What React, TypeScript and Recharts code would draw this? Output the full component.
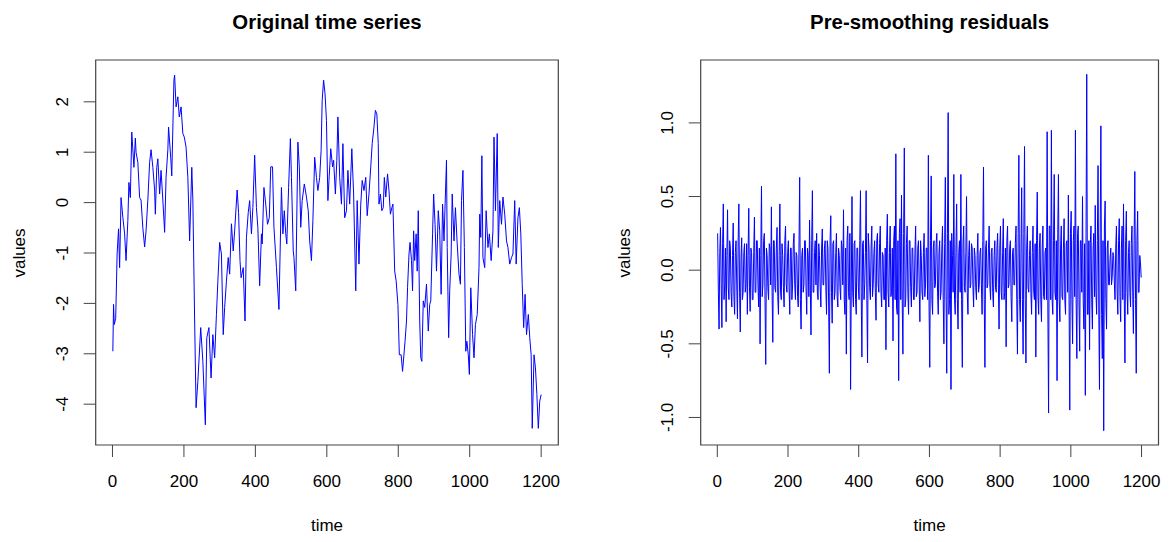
import React from 'react';
import { LineChart, Line, XAxis, YAxis, ReferenceArea } from 'recharts';

// ---------- Original time series ----------
const ORIG_TIME = [
  1, 3, 5, 9, 13, 17, 20, 24, 29, 34, 38, 43, 46, 50, 54, 60, 64, 66, 71, 76,
  80, 85, 90, 94, 99, 104, 108, 113, 118, 120, 124, 127, 132, 136, 141, 146, 150, 155, 157, 163,
  166, 172, 174, 178, 183, 187, 192, 197, 201, 206, 211, 216, 222, 225, 230, 234, 239, 247, 253, 260,
  264, 270, 276, 281, 286, 291, 295, 300, 305, 310, 314, 319, 324, 328, 333, 338, 342, 349, 353, 357,
  360, 366, 371, 375, 380, 384, 389, 393, 398, 403, 407, 412, 417, 419, 424, 429, 434, 439, 443, 448,
  452, 459, 466, 473, 477, 481, 485, 488, 493, 498, 501, 506, 508, 513, 519, 523, 527, 531, 537, 543,
  548, 552, 557, 561, 566, 571, 575, 580, 584, 587, 591, 595, 599, 603, 606, 611, 616, 619, 624, 628,
  631, 636, 641, 645, 650, 655, 659, 664, 670, 675, 681, 685, 690, 695, 699, 704, 709, 713, 718, 723,
  727, 732, 736, 740, 744, 746, 750, 754, 758, 761, 765, 770, 774, 778, 782, 785, 790, 794, 799, 803,
  808, 812, 819, 823, 826, 830, 833, 837, 840, 843, 846, 850, 853, 856, 860, 863, 866, 870, 874, 879,
  884, 888, 891, 896, 899, 903, 907, 912, 916, 920, 924, 928, 932, 935, 937, 941, 944, 948, 951, 956,
  960, 965, 970, 974, 977, 981, 985, 989, 992, 996, 999, 1003, 1008, 1012, 1016, 1021, 1026, 1028, 1031, 1034,
  1037, 1042, 1046, 1051, 1055, 1060, 1065, 1068, 1072, 1077, 1080, 1084, 1089, 1093, 1098, 1103, 1107, 1112, 1117, 1121,
  1126, 1130, 1135, 1139, 1143, 1147, 1151, 1155, 1159, 1164, 1168, 1172, 1175, 1180, 1184, 1188, 1192, 1196, 1200,
];

const ORIG_VALUE = [
  -2.95, -2.02, -2.42, -2.3, -1.02, -0.52, -1.29, 0.1, -0.29, -0.62, -1.15, -0.36, 0.4, 0.1, 1.4, 0.7, 1.28, 1.0, 0.8, 0.1,
  0.05, -0.5, -0.88, -0.56, 0.05, 0.8, 1.05, 0.7, 0.25, -0.23, 0.7, 0.87, 0.17, 0.64, 0.05, -0.59, 0.5, 1.05, 1.5, 0.9,
  0.53, 2.43, 2.53, 1.9, 2.1, 1.7, 1.9, 1.37, 1.3, 1.1, 0.5, -0.76, 0.7, 0.05, -2.35, -4.07, -3.55, -2.48, -3.15, -4.41,
  -2.68, -2.48, -3.48, -2.62, -3.08, -2.22, -1.56, -0.79, -1.02, -2.62, -2.08, -1.56, -1.09, -1.42, -0.42, -0.96, -0.56, 0.25, -0.2, -1.15,
  -1.49, -1.29, -2.35, -0.69, -0.2, 0.04, -0.62, -0.1, 0.94, -0.1, -0.5, -1.65, -0.62, -0.82, 0.3, -0.03, -0.43, -0.3, 0.71, 0.71,
  -0.49, -1.29, -2.12, 0.3, -0.62, -0.16, -0.62, -0.82, 0.3, 1.27, 0.5, -0.96, -1.09, -1.75, 1.2, 0.71, -0.49, 0.04, 0.37, 0.11,
  -0.16, -0.76, -1.15, -0.36, 0.9, 0.5, 0.24, 0.5, 1.03, 2.03, 2.43, 2.16, 1.63, 0.04, 0.44, 1.07, 0.71, 0.84, 0.17, 0.84,
  1.7, 0.5, -0.03, 1.17, -0.3, -0.16, 0.64, -0.03, 1.07, 0.17, -1.75, 0.04, -1.22, -0.03, 0.44, 0.24, 0.5, -0.26, 0.17, 0.71,
  1.17, 1.5, 1.83, 1.76, 1.17, -0.03, 0.17, -0.16, -0.1, 0.5, 0.11, 0.57, 0.24, -0.23, -0.1, -0.03, -1.36, -1.55, -2.02, -3.02,
  -3.02, -3.35, -2.75, -2.35, -1.69, -1.02, -0.79, -1.15, -1.75, -0.56, -1.15, -0.62, -1.36, -0.16, -2.35, -3.08, -3.15, -1.95, -2.08, -1.62,
  -2.55, -2.02, -1.95, -0.62, 0.17, -0.43, -1.36, -0.16, -0.56, -1.82, -0.03, -0.76, 0.17, 0.84, -0.89, -2.68, -1.75, -1.02, 0.17, -0.76,
  -0.1, -0.82, -1.42, -1.62, 0.04, 0.64, -0.89, -2.95, -2.75, -3.02, -3.41, -1.69, -2.62, -3.08, -2.42, -2.22, -1.29, -0.23, -0.69, 0.93,
  -1.09, -1.29, -0.16, -0.89, -0.62, -1.15, -0.56, 1.3, -0.16, 1.37, -0.89, 0.04, -0.43, 0.11, -0.23, -0.76, -0.89, -1.22, -1.09, -1.02,
  0.04, -1.22, -0.3, -0.1, -0.62, -1.62, -2.48, -1.82, -2.62, -2.22, -2.68, -3.02, -4.48, -3.02, -3.28, -3.81, -4.48, -3.94, -3.81,
];

// ---------- Pre-smoothing residuals ----------
// Readings at t = 1, 5, 9, ... (every 4 steps, incl. the visible spikes)
const RESID_A_START = 1;
const RESID_STEP = 4;
const RESID_A = [
  0.25, -0.4, 0.29, -0.39, 0.45, -0.1, -0.35, 0.41, -0.2, 0.15, -0.25, 0.32, -0.3, 0.2, -0.33, 0.45, -0.42, 0.22, -0.15, 0.18, -0.1, -0.3, 0.42, -0.28, 0.12,
  -0.2, 0.36, -0.15, 0.2, -0.25, -0.5, 0.57, -0.1, 0.25, -0.64, 0.1, -0.2, 0.15, 0.43, -0.49, 0.2, -0.15, 0.29, -0.3, 0.45, -0.2, 0.1, -0.25, 0.3, -0.15,
  0.2, -0.3, 0.15, -0.1, 0.25, -0.2, 0.1, -0.25, 0.63, -0.4, 0.15, -0.1, 0.2, -0.3, 0.1, 0.34, -0.44, 0.54, -0.15, 0.2, 0.25, -0.2, 0.1, -0.25, 0.28,
  -0.1, 0.2, -0.3, 0.15, -0.7, 0.37, -0.36, 0.2, -0.15, 0.25, -0.25, 0.1, -0.2, 0.15, 0.41, -0.3, -0.57, 0.3, -0.2, -0.81, 0.5, -0.25, 0.2, -0.3, 0.15,
  -0.2, 0.54, -0.59, 0.2, -0.1, 0.54, -0.63, 0.15, -0.2, 0.3, -0.1, 0.2, -0.34, 0.25, -0.15, 0.3, -0.25, 0.1, -0.2, -0.54, 0.38, -0.25, 0.3, -0.15, -0.48,
  0.3, 0.79, -0.3, -0.75, 0.35, 0.51, -0.57, 0.83, -0.2, 0.3, -0.3, 0.2, -0.25, 0.15, -0.2, 0.3, -0.15, 0.2, -0.35, 0.1, -0.2, 0.25, -0.1, 0.15, 0.78,
  -0.66, 0.64, -0.3, 0.2, -0.1, 0.25, -0.3, 0.2, -0.15, 0.3, -0.5, 0.63, -0.7, 1.07, -0.2, -0.81, 0.1, 0.65, -0.3, 0.45, -0.4, 0.2, 0.65, -0.66, 0.3,
  -0.15, 0.5, -0.3, 0.2, -0.1, 0.15, -0.25, 0.1, -0.2, 0.25, -0.1, 0.15, -0.3, 0.7, -0.66, 0.2, -0.1, 0.3, -0.2, 0.15, -0.25, 0.2, -0.15, 0.25, -0.4,
  0.3, -0.2, 0.35, -0.15, -0.52, 0.3, -0.1, 0.2, -0.35, 0.15, -0.1, 0.3, -0.57, 0.78, -0.35, 0.56, -0.57, 0.84, -0.63, 0.3, -0.15, 0.2, -0.3, 0.3, -0.2,
  -0.59, 0.53, -0.3, 0.25, -0.35, 0.3, -0.2, 0.15, 0.94, -0.97, 0.3, 0.95, -0.3, 0.65, -0.2, -0.75, 0.65, -0.35, 0.3, -0.2, 0.35, -0.3, 0.2, 0.51, -0.95,
  0.4, -0.5, 0.3, 0.95, -0.6, 0.3, -0.55, 0.2, 0.5, -0.4, -0.85, 1.33, -0.3, -0.54, 0.3, -0.4, 0.25, 0.44, -0.3, 0.71, -0.81, 0.98, -0.6, -1.09, 0.47,
  -0.4, 0.2, -0.1, 0.15, -0.05, 0.1, -0.2, 0.3, -0.3, 0.35, -0.35, 0.3, 0.45, -0.63, 0.4, -0.3, 0.2, -0.25, 0.3, -0.43, 0.67, -0.7, 0.4, -0.15, 0.05,
];
// Readings at t = 3, 7, 11, ... (the dense core of the noise band)
const RESID_B_START = 3;
const RESID_B = [
  -0.15, 0.12, -0.1, 0.18, -0.2, 0.15, 0.1, -0.12, 0.2, -0.15, 0.1, -0.18, 0.12, -0.1, 0.2, -0.15, 0.08, -0.2, 0.12, -0.15, 0.18, 0.1, -0.12, 0.15, -0.2,
  0.12, -0.15, 0.2, -0.1, 0.15, 0.1, -0.18, 0.2, -0.2, 0.15, -0.12, 0.18, -0.1, -0.15, 0.2, -0.12, 0.15, -0.18, 0.1, -0.15, 0.18, -0.12, 0.2, -0.1, 0.12,
  -0.12, 0.15, -0.2, 0.18, -0.1, 0.12, -0.18, 0.15, -0.2, 0.1, -0.15, 0.2, -0.12, 0.15, -0.18, -0.1, 0.2, -0.15, 0.12, -0.1, -0.15, 0.18, -0.12, 0.15, -0.1,
  0.15, -0.12, 0.2, -0.25, 0.2, -0.15, 0.18, -0.2, 0.12, -0.18, 0.15, -0.12, 0.2, -0.1, -0.2, 0.15, 0.2, -0.15, 0.25, -0.1, -0.15, 0.18, -0.2, 0.15, -0.12,
  0.2, -0.15, 0.18, -0.2, 0.12, -0.2, 0.25, -0.12, 0.15, -0.18, 0.12, -0.15, 0.2, -0.1, 0.18, -0.15, 0.12, -0.2, 0.15, 0.2, -0.15, 0.12, -0.18, 0.15, 0.2,
  -0.2, -0.25, 0.2, 0.25, -0.2, -0.2, 0.25, -0.25, 0.18, -0.15, 0.2, -0.12, 0.15, -0.2, 0.12, -0.18, 0.15, -0.1, 0.2, -0.15, 0.12, -0.18, 0.15, -0.2, -0.25,
  0.2, -0.2, 0.15, -0.12, 0.18, -0.15, 0.12, -0.2, 0.15, -0.2, 0.18, -0.15, 0.25, -0.3, 0.2, 0.25, -0.15, -0.2, 0.15, -0.2, 0.12, -0.15, -0.2, 0.18, -0.12,
  0.12, -0.15, 0.1, -0.12, 0.18, -0.1, 0.15, -0.12, 0.1, -0.15, 0.12, -0.1, 0.2, -0.2, 0.15, -0.12, 0.15, -0.1, 0.12, -0.15, 0.1, -0.12, 0.15, -0.1, 0.15,
  -0.15, 0.12, -0.2, 0.15, 0.2, -0.12, 0.15, -0.18, 0.12, -0.1, 0.18, -0.2, 0.25, -0.2, 0.15, -0.2, 0.25, -0.2, 0.15, -0.12, 0.1, -0.15, 0.12, -0.15, 0.18,
  0.2, -0.18, 0.15, -0.2, 0.15, -0.18, 0.12, -0.2, -0.25, 0.3, -0.2, -0.2, 0.2, -0.15, 0.2, 0.25, -0.2, 0.15, -0.18, 0.15, -0.2, 0.18, -0.15, -0.2, 0.25,
  -0.2, 0.2, -0.18, -0.2, 0.25, -0.2, 0.2, -0.15, -0.2, 0.18, 0.25, -0.3, 0.2, 0.18, -0.2, 0.15, -0.18, -0.15, 0.2, -0.25, 0.25, -0.3, 0.2, 0.3, -0.2,
  0.15, -0.1, 0.08, -0.1, 0.12, -0.08, 0.15, -0.15, 0.2, -0.18, 0.15, -0.2, -0.15, 0.2, -0.15, 0.12, -0.15, 0.18, -0.15, 0.2, -0.2, 0.2, -0.15, 0.1, -0.05,
];

// ---------- Axes ----------
const X_TICKS = [0, 200, 400, 600, 800, 1000, 1200];
const X_DOMAIN = [-46.96, 1247.96];
const ORIG_Y_TICKS = [-4, -3, -2, -1, 0, 1, 2];
const ORIG_Y_DOMAIN = [-4.81, 2.83];
const RESID_Y_TICKS = [-1, -0.5, 0, 0.5, 1];
const RESID_Y_DOMAIN = [-1.187, 1.427];

const TITLE_LEFT = 'Original time series';
const TITLE_RIGHT = 'Pre-smoothing residuals';
const X_LABEL = 'time';
const Y_LABEL = 'values';

const origData = ORIG_TIME.map((t, i) => ({ t, v: ORIG_VALUE[i] }));
const residData: { t: number; v: number }[] = [];
RESID_A.forEach((v, i) => {
  residData.push({ t: RESID_A_START + i * RESID_STEP, v });
  if (i < RESID_B.length) residData.push({ t: RESID_B_START + i * RESID_STEP, v: RESID_B[i] });
});

const FONT = '"Liberation Sans", Arial, Helvetica, sans-serif';
const AXIS_COLOR = '#444';
const FS = 17;

const makeYTick = (fmt: (v: number) => string) => (props: any) => {
  const { x, y, payload } = props;
  return (
    <text
      x={x}
      y={y}
      transform={`rotate(-90 ${x} ${y})`}
      textAnchor="middle"
      fontSize={FS}
      fontFamily={FONT}
      fill="#000"
    >
      {fmt(payload.value)}
    </text>
  );
};

const XTick = (props: any) => {
  const { x, y, payload } = props;
  return (
    <text x={x} y={y} textAnchor="middle" fontSize={FS} fontFamily={FONT} fill="#000">
      {payload.value}
    </text>
  );
};

type PanelProps = {
  left: number;
  width: number;
  plotLeft: number;
  plotRight: number;
  data: { t: number; v: number }[];
  yDomain: number[];
  yTicks: number[];
  yFmt: (v: number) => string;
  title: string;
};

const H = 542;
const PLOT_TOP = 60;
const PLOT_BOTTOM = 445;
const Y_AXIS_W = 60;
const X_AXIS_H = 60;

const Panel = ({ left, width, plotLeft, plotRight, data, yDomain, yTicks, yFmt, title }: PanelProps) => {
  const plotW = plotRight - plotLeft;
  const center = plotLeft + plotW / 2;
  return (
    <div style={{ position: 'absolute', left, top: 0, width, height: H }}>
      <LineChart
        width={width}
        height={H}
        data={data}
        margin={{
          top: PLOT_TOP,
          bottom: H - PLOT_BOTTOM - X_AXIS_H,
          left: plotLeft - Y_AXIS_W,
          right: width - plotRight,
        }}
      >
        <XAxis
          dataKey="t"
          type="number"
          domain={X_DOMAIN}
          allowDataOverflow
          ticks={X_TICKS}
          interval={0}
          height={X_AXIS_H}
          axisLine={false}
          tickSize={12}
          tickMargin={30}
          tickLine={{ stroke: AXIS_COLOR, strokeWidth: 1 }}
          tick={<XTick />}
        />
        <YAxis
          dataKey="v"
          type="number"
          domain={yDomain}
          allowDataOverflow
          ticks={yTicks}
          interval={0}
          width={Y_AXIS_W}
          axisLine={false}
          tickSize={12}
          tickMargin={16}
          tickLine={{ stroke: AXIS_COLOR, strokeWidth: 1 }}
          tick={makeYTick(yFmt)}
        />
        <ReferenceArea
          x1={X_DOMAIN[0]}
          x2={X_DOMAIN[1]}
          y1={yDomain[0]}
          y2={yDomain[1]}
          fill="none"
          fillOpacity={0}
          stroke={AXIS_COLOR}
          strokeWidth={1.2}
          ifOverflow="visible"
        />
        <Line
          type="linear"
          dataKey="v"
          stroke="#0000ff"
          strokeWidth={1}
          dot={false}
          activeDot={false}
          isAnimationActive={false}
        />
      </LineChart>
      <div
        style={{
          position: 'absolute',
          left: center - 250,
          width: 500,
          top: 9,
          textAlign: 'center',
          fontFamily: FONT,
          fontWeight: 'bold',
          fontSize: 20.4,
          lineHeight: '26px',
          color: '#000',
        }}
      >
        {title}
      </div>
      <div
        style={{
          position: 'absolute',
          left: center - 100,
          width: 200,
          top: 515,
          textAlign: 'center',
          fontFamily: FONT,
          fontSize: FS,
          lineHeight: '22px',
          color: '#000',
        }}
      >
        {X_LABEL}
      </div>
      <div
        style={{
          position: 'absolute',
          left: plotLeft - 76 - 50,
          width: 100,
          top: (PLOT_TOP + PLOT_BOTTOM) / 2 - 11,
          textAlign: 'center',
          fontFamily: FONT,
          fontSize: FS,
          lineHeight: '22px',
          color: '#000',
          transform: 'rotate(-90deg)',
        }}
      >
        {Y_LABEL}
      </div>
    </div>
  );
};

export default function App() {
  return (
    <div
      style={{
        position: 'absolute',
        left: 0,
        top: 0,
        width: 1173,
        height: 542,
        background: '#fff',
        overflow: 'hidden',
      }}
    >
      <Panel
        left={0}
        width={600}
        plotLeft={95.7}
        plotRight={558.3}
        data={origData}
        yDomain={ORIG_Y_DOMAIN}
        yTicks={ORIG_Y_TICKS}
        yFmt={(v) => String(v)}
        title={TITLE_LEFT}
      />
      <Panel
        left={600}
        width={573}
        plotLeft={100.7}
        plotRight={558.5}
        data={residData}
        yDomain={RESID_Y_DOMAIN}
        yTicks={RESID_Y_TICKS}
        yFmt={(v) => v.toFixed(1)}
        title={TITLE_RIGHT}
      />
    </div>
  );
}
